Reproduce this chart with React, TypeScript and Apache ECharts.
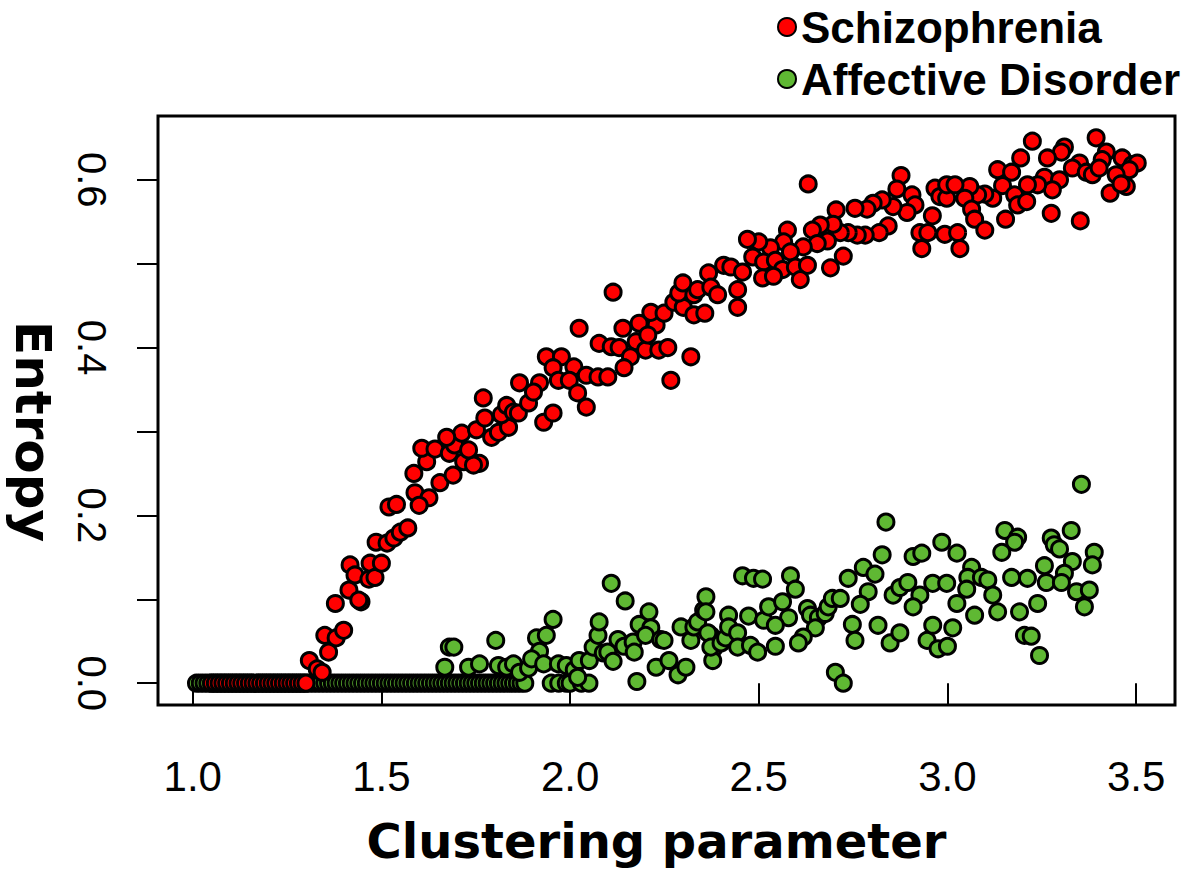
import React, { useEffect, useRef } from "react";
import * as echarts from "echarts";

// ---- Data ----
const seriesNames = ["Schizophrenia", "Affective Disorder"];

const xTicks = [1.0, 1.5, 2.0, 2.5, 3.0, 3.5];
const yTicks = [0.0, 0.1, 0.2, 0.3, 0.4, 0.5, 0.6];
const yTickLabels = [0.0, 0.2, 0.4, 0.6];

// Schizophrenia points lying on zero entropy
const schizoZeroX = [
  1.05, 1.06, 1.07, 1.08, 1.09, 1.1, 1.11, 1.12, 1.13, 1.14, 1.15, 1.16, 1.17,
  1.18, 1.19, 1.2, 1.21, 1.22, 1.23, 1.24, 1.25, 1.26, 1.27, 1.28, 1.29, 1.3,
];

// Schizophrenia points above zero: [clustering parameter, entropy]
const schizoPoints: [number, number][] = [
  [1.309, 0.027], [1.33, 0.017], [1.343, 0.013], [1.36, 0.037], [1.35, 0.057],
  [1.38, 0.054], [1.4, 0.063], [1.378, 0.095], [1.414, 0.111], [1.446, 0.097],
  [1.44, 0.099], [1.417, 0.141], [1.43, 0.129], [1.467, 0.124], [1.47, 0.143],
  [1.483, 0.126], [1.5, 0.143], [1.486, 0.168], [1.515, 0.167], [1.533, 0.173],
  [1.55, 0.18], [1.57, 0.185], [1.52, 0.21], [1.54, 0.213],
  [1.589, 0.227], [1.626, 0.221], [1.6, 0.212], [1.586, 0.25], [1.655, 0.239],
  [1.69, 0.248], [1.718, 0.264], [1.76, 0.262], [1.744, 0.26], [1.62, 0.264],
  [1.607, 0.28], [1.642, 0.279], [1.68, 0.274], [1.694, 0.284], [1.731, 0.278],
  [1.713, 0.298], [1.673, 0.293], [1.752, 0.302], [1.774, 0.316], [1.792, 0.293],
  [1.81, 0.299], [1.837, 0.305], [1.818, 0.32], [1.77, 0.34], [1.832, 0.331],
  [1.85, 0.323], [1.863, 0.322], [1.89, 0.334], [1.93, 0.311], [1.955, 0.322],
  [1.866, 0.358], [1.919, 0.358], [1.903, 0.347], [1.937, 0.389], [1.977, 0.389],
  [1.955, 0.376], [2.01, 0.377], [1.969, 0.361], [1.998, 0.361], [2.043, 0.367],
  [2.074, 0.365], [2.1, 0.365], [2.02, 0.346], [2.043, 0.329], [2.024, 0.423],
  [2.077, 0.405], [2.109, 0.401], [2.13, 0.4], [2.175, 0.407], [2.2, 0.397],
  [2.16, 0.389], [2.143, 0.376], [2.114, 0.466], [2.14, 0.423], [2.183, 0.429],
  [2.228, 0.427], [2.206, 0.415], [2.235, 0.397], [2.259, 0.4], [2.267, 0.361],
  [2.214, 0.442], [2.249, 0.441], [2.275, 0.454], [2.3, 0.448], [2.288, 0.465],
  [2.299, 0.477], [2.328, 0.463], [2.328, 0.439], [2.32, 0.389],
  [2.631, 0.595], [2.877, 0.605], [2.866, 0.589], [2.906, 0.582], [2.914, 0.57],
  [2.893, 0.561], [2.856, 0.568], [2.827, 0.576], [2.803, 0.572], [2.787, 0.565],
  [2.755, 0.566], [2.967, 0.59], [2.98, 0.58], [2.998, 0.578], [2.998, 0.594],
  [2.96, 0.557], [2.927, 0.537], [2.948, 0.537], [2.993, 0.535], [2.932, 0.518],
  [2.843, 0.545], [2.819, 0.537], [2.782, 0.534], [2.761, 0.534], [2.737, 0.537],
  [2.716, 0.537], [2.705, 0.564], [2.697, 0.547], [2.663, 0.546], [2.642, 0.54],
  [2.682, 0.527], [2.655, 0.524], [2.724, 0.509], [2.69, 0.495], [2.618, 0.52],
  [2.576, 0.54], [2.566, 0.526], [2.584, 0.514], [2.531, 0.519], [2.5, 0.526],
  [2.47, 0.529], [2.484, 0.508], [2.513, 0.502], [2.544, 0.504], [2.563, 0.493],
  [2.597, 0.496], [2.629, 0.498], [2.51, 0.483], [2.539, 0.485], [2.61, 0.481],
  [2.407, 0.498], [2.426, 0.496], [2.457, 0.49], [2.367, 0.489], [2.338, 0.469],
  [2.373, 0.472], [2.391, 0.463], [2.444, 0.469], [2.444, 0.448], [2.357, 0.441],
  [3.225, 0.646], [3.394, 0.65], [3.31, 0.639], [3.302, 0.633], [3.421, 0.633],
  [3.41, 0.624], [3.463, 0.626], [3.49, 0.618], [3.503, 0.62], [3.482, 0.612],
  [3.447, 0.606], [3.474, 0.592], [3.431, 0.584], [3.46, 0.595], [3.35, 0.62],
  [3.331, 0.614], [3.368, 0.609], [3.384, 0.606], [3.402, 0.614], [3.265, 0.626],
  [3.194, 0.626], [3.133, 0.612], [3.17, 0.609], [3.257, 0.603], [3.297, 0.6],
  [3.278, 0.588], [3.239, 0.594], [3.212, 0.594], [3.146, 0.593], [3.12, 0.578],
  [3.178, 0.582], [3.186, 0.57], [3.21, 0.574], [3.099, 0.583], [3.08, 0.582],
  [3.059, 0.592], [3.046, 0.578], [3.02, 0.594], [3.064, 0.565], [3.072, 0.553],
  [3.099, 0.54], [3.154, 0.553], [3.275, 0.56], [3.352, 0.551], [3.027, 0.537],
  [3.033, 0.518],
];

// Affective disorder points lying on zero entropy
const affectiveZeroX = [
  1.01, 1.02, 1.03, 1.04, 1.05, 1.06, 1.07, 1.08, 1.09, 1.1, 1.11, 1.12, 1.13,
  1.14, 1.15, 1.16, 1.17, 1.18, 1.19, 1.2, 1.21, 1.22, 1.23, 1.24, 1.25, 1.26,
  1.27, 1.28, 1.29, 1.3, 1.31, 1.32, 1.33, 1.34, 1.35, 1.36, 1.37, 1.38, 1.39,
  1.4, 1.41, 1.42, 1.43, 1.44, 1.45, 1.46, 1.47, 1.48, 1.49, 1.5, 1.51, 1.52,
  1.53, 1.54, 1.55, 1.56, 1.57, 1.58, 1.59, 1.6, 1.61, 1.62, 1.63, 1.64, 1.65,
  1.66, 1.67, 1.68, 1.69, 1.7, 1.71, 1.72, 1.73, 1.74, 1.75, 1.76, 1.77, 1.78,
  1.79, 1.8, 1.81, 1.82, 1.83, 1.84, 1.85, 1.86, 1.87, 1.88, 1.95, 1.97, 1.99,
  2.0, 2.03, 2.05,
];

// Affective disorder points above zero: [clustering parameter, entropy]
const affectivePoints: [number, number][] = [
  [1.668, 0.019], [1.68, 0.043], [1.692, 0.043], [1.731, 0.019], [1.76, 0.023],
  [1.803, 0.051], [1.81, 0.021], [1.832, 0.019], [1.85, 0.023], [1.866, 0.013],
  [1.89, 0.018], [1.911, 0.054], [1.937, 0.057], [1.919, 0.038], [1.898, 0.029],
  [1.93, 0.023], [1.955, 0.076], [1.969, 0.023], [1.99, 0.021], [2.011, 0.016],
  [2.024, 0.027], [2.02, 0.007], [2.051, 0.027], [2.061, 0.043], [2.074, 0.057],
  [2.077, 0.073], [2.088, 0.036], [2.1, 0.037], [2.114, 0.026], [2.109, 0.119],
  [2.146, 0.098], [2.127, 0.052], [2.143, 0.044], [2.167, 0.049], [2.17, 0.037],
  [2.183, 0.07], [2.209, 0.085], [2.214, 0.066], [2.2, 0.057], [2.24, 0.052],
  [2.249, 0.051], [2.177, 0.002], [2.228, 0.019], [2.262, 0.027], [2.286, 0.01],
  [2.307, 0.019], [2.294, 0.067], [2.32, 0.051], [2.328, 0.067], [2.338, 0.073],
  [2.354, 0.087], [2.36, 0.103], [2.373, 0.057], [2.381, 0.042], [2.378, 0.027],
  [2.837, 0.192], [2.985, 0.168], [2.827, 0.153], [2.909, 0.151], [2.932, 0.155],
  [3.025, 0.155], [2.457, 0.128], [2.486, 0.125], [2.51, 0.124], [2.584, 0.128],
  [2.597, 0.112], [2.737, 0.125], [2.777, 0.138], [2.808, 0.13], [2.79, 0.109],
  [2.769, 0.094], [2.856, 0.105], [2.874, 0.114], [2.895, 0.12], [2.927, 0.105],
  [2.909, 0.091], [2.961, 0.119], [2.998, 0.119], [3.025, 0.095], [2.36, 0.085],
  [2.42, 0.081], [2.473, 0.08], [2.513, 0.075], [2.526, 0.091], [2.563, 0.097],
  [2.579, 0.078], [2.544, 0.069], [2.629, 0.089], [2.637, 0.081], [2.658, 0.078],
  [2.676, 0.083], [2.684, 0.091], [2.695, 0.101], [2.716, 0.101], [2.65, 0.066],
  [2.618, 0.055], [2.605, 0.048], [2.748, 0.07], [2.755, 0.051], [2.816, 0.069],
  [2.848, 0.048], [2.874, 0.06], [2.946, 0.051], [2.961, 0.069], [2.975, 0.041],
  [3.0, 0.044], [3.014, 0.066], [2.703, 0.013], [2.724, 0.0], [2.365, 0.06],
  [2.373, 0.043], [2.4, 0.048], [2.412, 0.054], [2.42, 0.067], [2.444, 0.06],
  [2.444, 0.043], [2.478, 0.045], [2.497, 0.037], [2.544, 0.044],
  [3.355, 0.237], [3.152, 0.182], [3.186, 0.174], [3.178, 0.168], [3.328, 0.182],
  [3.275, 0.173], [3.283, 0.165], [3.297, 0.16], [3.144, 0.156], [3.389, 0.156],
  [3.384, 0.141], [3.331, 0.145], [3.257, 0.14], [3.064, 0.138], [3.054, 0.126],
  [3.09, 0.126], [3.107, 0.123], [3.17, 0.126], [3.212, 0.125], [3.262, 0.12],
  [3.31, 0.131], [3.302, 0.12], [3.342, 0.109], [3.376, 0.111], [3.051, 0.112],
  [3.12, 0.105], [3.072, 0.081], [3.133, 0.085], [3.191, 0.085], [3.239, 0.095],
  [3.363, 0.091], [3.204, 0.057], [3.222, 0.056], [3.244, 0.033],
];

const tickFont = "'Liberation Sans', Arial, sans-serif";

export default function App() {
  const ref = useRef<HTMLDivElement>(null);

  useEffect(() => {
    document.body.style.margin = "0";
    if (!ref.current) return;
    const chart = echarts.init(ref.current, undefined, { renderer: "svg" });

    const schizoData = [
      ...schizoZeroX.map((x) => [x, 0]),
      ...schizoPoints,
    ];
    const affectiveData = [
      ...affectiveZeroX.map((x) => [x, 0]),
      ...affectivePoints,
    ];

    chart.setOption({
      animation: false,
      backgroundColor: "#ffffff",
      grid: {
        left: 155,
        top: 116,
        width: 1020,
        height: 589,
        show: true,
        borderColor: "#000000",
        borderWidth: 3,
        backgroundColor: "transparent",
      },
      legend: {
        data: seriesNames,
        orient: "vertical",
        left: 772,
        top: 0,
        itemWidth: 18,
        itemHeight: 18,
        itemGap: 8,
        icon: "circle",
        textStyle: {
          fontFamily: "'Liberation Sans', Arial, sans-serif",
          fontWeight: "bold",
          fontSize: 44,
          color: "#000000",
          lineHeight: 44,
        },
      },
      xAxis: {
        type: "value",
        min: 0.908,
        max: 3.603,
        name: "Clustering parameter",
        nameLocation: "middle",
        nameGap: 112,
        nameTextStyle: {
          fontFamily: "'DejaVu Sans', sans-serif",
          fontWeight: "bold",
          fontSize: 48,
          color: "#000000",
          padding: [0, 20, 0, 0],
        },
        splitLine: { show: false },
        axisLine: { show: false },
        axisTick: {
          show: true,
          customValues: xTicks,
          length: 21,
          lineStyle: { color: "#000000", width: 2 },
        },
        axisLabel: {
          customValues: xTicks,
          formatter: (v: number) => v.toFixed(1),
          margin: 50,
          fontFamily: tickFont,
          fontSize: 42,
          color: "#000000",
        },
      },
      yAxis: {
        type: "value",
        min: -0.026,
        max: 0.676,
        name: "Entropy",
        nameLocation: "middle",
        nameRotate: -90,
        nameGap: 100,
        nameTextStyle: {
          fontFamily: "'DejaVu Sans', sans-serif",
          fontWeight: "bold",
          fontSize: 50,
          color: "#000000",
          padding: [0, 0, 0, 42],
        },
        splitLine: { show: false },
        axisLine: { show: false },
        axisTick: {
          show: true,
          customValues: yTicks,
          length: 21,
          lineStyle: { color: "#000000", width: 2 },
        },
        axisLabel: {
          customValues: yTickLabels,
          formatter: (v: number) => v.toFixed(1),
          rotate: -90,
          margin: 46,
          fontFamily: tickFont,
          fontSize: 40,
          color: "#000000",
        },
      },
      series: [
        {
          name: "Affective Disorder",
          type: "scatter",
          data: affectiveData,
          symbol: "circle",
          symbolSize: 16,
          itemStyle: {
            color: "#5fb833",
            borderColor: "#000000",
            borderWidth: 3,
            opacity: 1,
          },
          z: 2,
        },
        {
          name: "Schizophrenia",
          type: "scatter",
          data: schizoData,
          symbol: "circle",
          symbolSize: 16,
          itemStyle: {
            color: "#ff0000",
            borderColor: "#000000",
            borderWidth: 3,
            opacity: 1,
          },
          z: 3,
        },
      ],
    });

    return () => chart.dispose();
  }, []);

  return (
    <div
      ref={ref}
      style={{ position: "absolute", left: 0, top: 0, width: 1200, height: 881 }}
    />
  );
}
